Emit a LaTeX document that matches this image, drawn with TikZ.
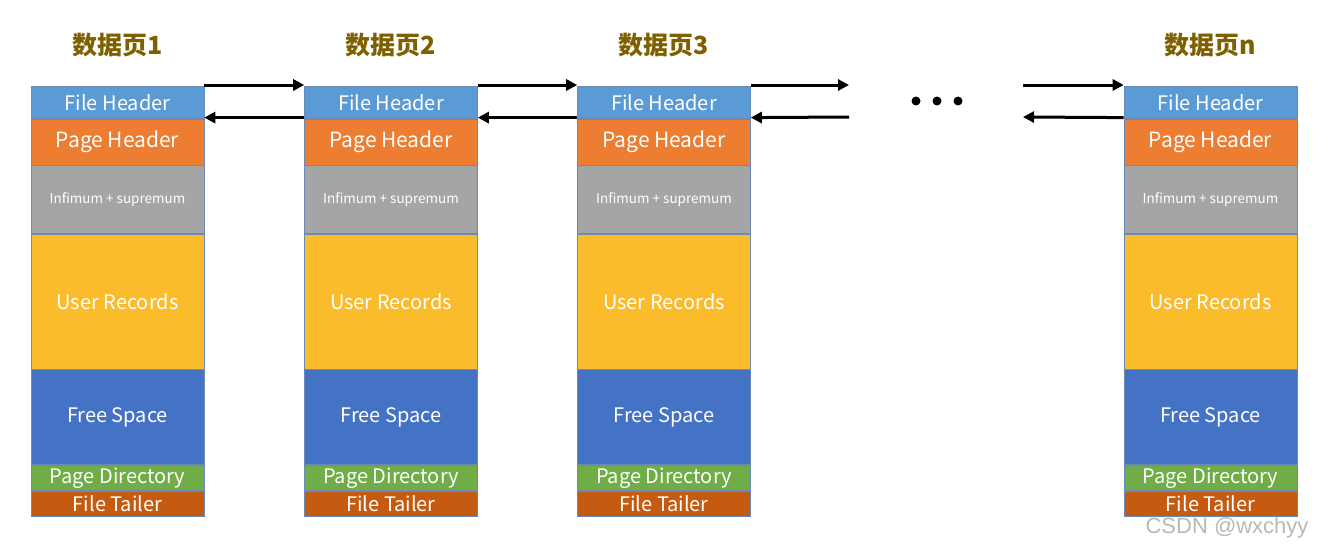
\documentclass[tikz,border=0pt]{standalone}
\usepackage{fontspec}
\setmainfont{Noto Sans CJK SC}
\newfontfamily\wmfont{Liberation Sans}
\usetikzlibrary{arrows.meta}
\definecolor{cfh}{HTML}{5B9BD5}
\definecolor{cph}{HTML}{ED7D31}
\definecolor{cinf}{HTML}{A5A5A5}
\definecolor{cur}{HTML}{FBBC2C}
\definecolor{cfs}{HTML}{4472C4}
\definecolor{cpd}{HTML}{70AD47}
\definecolor{cft}{HTML}{C55A11}
\definecolor{cborder}{HTML}{6A8BB8}
\definecolor{ctitle}{HTML}{7F6000}
\definecolor{cwm}{HTML}{B8B8B8}
\tikzset{
  seg/.style={draw=cborder, line width=0.6pt, minimum width=173pt, anchor=north, inner sep=0pt, text=white, font=\fontsize{20}{22}\selectfont},
  ttl/.style={text=ctitle, font=\fontsize{25}{28}\selectfont\bfseries},
  link/.style={line width=3pt, -{Triangle[length=11pt,width=11pt]}},
}
\newcommand\mypagecol[3]{%
  \node[ttl] (t#1) at (#2,45) {#3};
  \node[seg, fill=cfh, minimum height=32pt] (fh#1) at (#2,86) {File Header};
  \node[seg, fill=cph, minimum height=46pt, font=\fontsize{21}{23}\selectfont] (ph#1) at (fh#1.south) {Page Header};
  \node[seg, fill=cinf, minimum height=68pt, font=\fontsize{13.5}{15}\selectfont] (in#1) at (ph#1.south) {Infimum + supremum};
  \node[seg, fill=cur, minimum height=135pt] (ur#1) at (in#1.south) {User Records};
  \node[seg, fill=cfs, minimum height=95pt] (fs#1) at (ur#1.south) {Free Space};
  \node[seg, fill=cpd, minimum height=25pt] (pd#1) at (fs#1.south) {Page Directory};
  \node[seg, fill=cft, minimum height=25pt] (ft#1) at (pd#1.south) {File Tailer};
}
\begin{document}
\begin{tikzpicture}[x=1pt,y=-1pt]
\useasboundingbox (0,0) rectangle (1321,551);
\mypagecol{1}{117.5}{数据页1}
\mypagecol{2}{391}{数据页2}
\mypagecol{3}{664}{数据页3}
\mypagecol{n}{1210.5}{数据页n}
% gap coordinates
\coordinate (g1t) at (849,85);
\coordinate (g1b) at (849,117);
\coordinate (g2t) at (1023,85);
\coordinate (g2b) at (1023,117);
\draw[link] ([yshift=1pt]fh1.north east) -- ([yshift=1pt]fh2.north west);
\draw[link] ([yshift=1pt]fh2.south west) -- ([yshift=1pt]fh1.south east);
\draw[link] ([yshift=1pt]fh2.north east) -- ([yshift=1pt]fh3.north west);
\draw[link] ([yshift=1pt]fh3.south west) -- ([yshift=1pt]fh2.south east);
\draw[link] ([yshift=1pt]fh3.north east) -- (g1t);
\draw[link] (g1b) -- ([yshift=1pt]fh3.south east);
\draw[link] (g2t) -- ([yshift=1pt]fhn.north west);
\draw[link] ([yshift=1pt]fhn.south west) -- (g2b);
\foreach \i/\x in {a/916,b/937,c/958}
  \fill (\x,101) circle (4.5pt) coordinate (dot\i);
\node[text=cwm, font=\wmfont\fontsize{22}{24}\selectfont, anchor=east] (wm) at (1312,528) {CSDN @wxchyy};
\end{tikzpicture}
\end{document}
